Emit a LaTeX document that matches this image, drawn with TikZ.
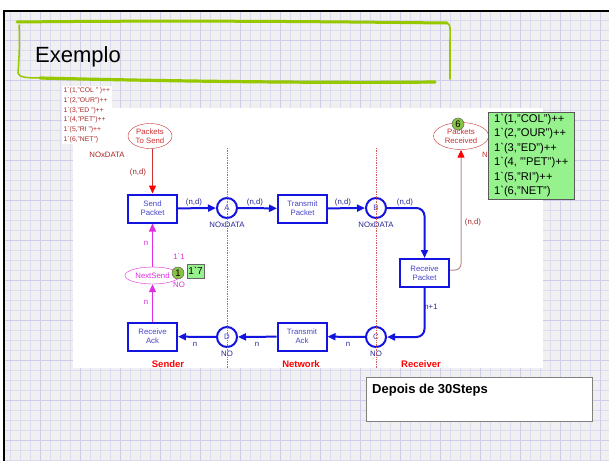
\documentclass[tikz,border=0pt]{standalone}
\usepackage{fontspec}
\setmainfont{Liberation Sans}
\usetikzlibrary{arrows.meta,shapes.geometric}

\definecolor{azul}{RGB}{20,20,225}
\definecolor{azultexto}{RGB}{70,70,200}
\definecolor{azulrotulo}{RGB}{40,40,150}
\definecolor{vermelho}{RGB}{205,50,50}
\definecolor{vermelhoescuro}{RGB}{170,40,40}
\definecolor{rosado}{RGB}{195,140,140}
\definecolor{magenta2}{RGB}{225,45,225}
\definecolor{verdeclaro}{RGB}{150,242,140}
\definecolor{verdeficha}{RGB}{135,195,65}
\definecolor{verdetitulo}{RGB}{150,200,0}
\definecolor{fundo}{RGB}{240,240,240}
\definecolor{grade}{RGB}{218,218,240}
\definecolor{gradeforte}{RGB}{205,205,235}

\newcommand{\crase}{\textasciigrave}

\tikzset{
  pequeno/.style={font=\fontsize{7.8}{8.8}\selectfont},
  transicao/.style={draw=azul, line width=2pt, fill=white, minimum width=49pt,
    minimum height=28pt, inner sep=0pt, align=center, text=azultexto, pequeno},
  lugar/.style={circle, draw=azul, line width=2pt, fill=white, minimum size=20pt,
    inner sep=0pt, text=azultexto, pequeno},
  lugarext/.style={ellipse, fill=white, inner sep=0pt, align=center, pequeno},
  arco/.style={draw=azul, line width=2pt, -{Triangle[length=8pt,width=7pt]}},
  arcomag/.style={draw=magenta2, line width=1pt, -{Triangle[length=8pt,width=7pt]}},
  arcoret/.style={draw=rosado, line width=1pt, -{Triangle[length=8pt,width=7pt,color=red]}},
  arcored/.style={draw=vermelho, line width=1pt, -{Triangle[length=8pt,width=7pt,color=red]}},
  rotulo/.style={pequeno, inner sep=0pt, text=azulrotulo},
  ficha/.style={circle, fill=verdeficha, draw=black!60, line width=0.5pt, inner sep=0pt,
    minimum size=12pt, font=\fontsize{9.5}{10}\selectfont},
  secao/.style={font=\bfseries\fontsize{9.5}{10}\selectfont, text=red, inner sep=0pt}
}

\begin{document}
\begin{tikzpicture}[x=1pt, y=-1pt]
    \useasboundingbox (0,0) rectangle (609,461);

    % Fundo do slide com a grade
    \fill[white] (0,0) rectangle (609,12);
    \fill[fundo] (4,11) rectangle (609,461);
    \foreach \x in {10,20,...,600}
        \draw[grade, line width=0.6pt] (\x,12) -- (\x,461);
    \foreach \y in {20,30,...,460}
        \draw[grade, line width=0.6pt] (5,\y) -- (609,\y);
    \foreach \x in {40,80,...,600}
        \draw[gradeforte, line width=0.7pt] (\x,12) -- (\x,461);
    \foreach \y in {40,80,...,440}
        \draw[gradeforte, line width=0.7pt] (5,\y) -- (609,\y);
    \draw[black, line width=2pt] (3,11) -- (609,11);
    \draw[black, line width=2pt] (4,10) -- (4,461);

    % Moldura verde do titulo
    \draw[verdetitulo, line width=3pt, line cap=round] (17,22) .. controls (200,20) and (350,22) .. (447,23);
    \draw[verdetitulo, line width=1.6pt, line cap=round] (447,23) .. controls (451,24) and (450,30) .. (450,45) -- (450,79);
    \draw[verdetitulo, line width=1.5pt, line cap=round] (19,25) .. controls (20,40) and (19,60) .. (18,73) .. controls (19,77) and (25,78) .. (40,78);
    \draw[verdetitulo, line width=3.2pt, line cap=round] (40,78) .. controls (200,82) and (350,83) .. (435,82);
    \node[anchor=base west, inner sep=0pt, font=\fontsize{22}{24}\selectfont] (titulo) at (35,62) {Exemplo};

    % Area branca da rede
    \fill[white] (73,108) rectangle (543,368);
    \node[anchor=north west, fill=white, inner sep=1.5pt, align=left, text=vermelhoescuro,
          font=\fontsize{6.8}{9.7}\selectfont] (inicial) at (62,86)
        {1\crase(1,"COL " )++\\1\crase(2,"OUR")++\\1\crase(3,"ED ")++\\1\crase(4,"PET")++\\1\crase(5,"RI ")++\\1\crase(6,"NET")};

    % Lugares externos
    \node[lugarext, draw=vermelho, text=vermelho, minimum width=44pt, minimum height=25pt] (packetsToSend) at (150,136) {Packets\\To Send};
    \node[pequeno, text=vermelhoescuro] (tipoSend) at (107,155) {NOxDATA};
    \node[pequeno, text=vermelho, anchor=west, inner sep=0pt] (tipoReceived) at (482,155) {N};
    \node[lugarext, draw=vermelho, text=vermelho, minimum width=55pt, minimum height=27pt] (packetsReceived) at (461,136) {Packets\\Received};

    % Transicoes
    \node[transicao] (sendPacket) at (152.5,208.5) {Send\\Packet};
    \node[transicao] (transmitPacket) at (302.5,208.5) {Transmit\\Packet};
    \node[transicao] (receivePacket) at (424.5,273) {Receive\\Packet};
    \node[transicao] (transmitAck) at (302,336.5) {Transmit\\Ack};
    \node[transicao] (receiveAck) at (152.5,336.5) {Receive\\Ack};

    % Lugares internos
    \node[lugar] (pA) at (227,208) {A};
    \node[lugar] (pB) at (376,208) {B};
    \node[lugar] (pC) at (376,337) {C};
    \node[lugar] (pD) at (227,337) {D};
    \node[lugarext, draw=magenta2, text=magenta2, minimum width=55pt, minimum height=17pt] (nextSend) at (152.5,275.5) {NextSend};

    % Tipos dos lugares
    \node[rotulo] (tipoA) at (227,225) {NOxDATA};
    \node[rotulo] (tipoB) at (376,225) {NOxDATA};
    \node[rotulo] (tipoC) at (376,354) {NO};
    \node[rotulo] (tipoD) at (227,354) {NO};
    \node[rotulo, text=magenta2] (tipoNext) at (179,285) {NO};
    \node[rotulo, text=magenta2] (iniNext) at (179,257) {1\crase1};

    % Arcos
    \draw[arcored] (packetsToSend.south -| sendPacket) -- (sendPacket.north);
    \draw[arco] (sendPacket) -- (pA);
    \draw[arco] (pA) -- (transmitPacket);
    \draw[arco] (transmitPacket) -- (pB);
    \draw[arco, rounded corners=8pt] (pB.east) -| (receivePacket.north);
    \draw[arcoret, rounded corners=6pt] ([yshift=3pt]receivePacket.east) -| (packetsReceived.south);
    \draw[arco, rounded corners=8pt] (receivePacket.south) |- (pC.east);
    \draw[arco] (pC) -- (transmitAck);
    \draw[arco] (transmitAck) -- (pD);
    \draw[arco] (pD) -- (receiveAck);
    \draw[arcomag] (receiveAck) -- (nextSend);
    \draw[arcomag] (nextSend) -- (sendPacket);

    % Inscricoes dos arcos
    \node[pequeno, text=vermelhoescuro] (insPTS) at (138,172) {(n,d)};
    \node[rotulo] (insA) at (194,202) {(n,d)};
    \node[rotulo] (insTP) at (255,202) {(n,d)};
    \node[rotulo] (insB) at (343,202) {(n,d)};
    \node[rotulo] (insRP) at (405,202) {(n,d)};
    \node[pequeno, text=vermelhoescuro] (insPR) at (473,222) {(n,d)};
    \node[rotulo] (insC) at (431,307) {n+1};
    \node[rotulo] (insTA) at (348,344) {n};
    \node[rotulo] (insD) at (257,344) {n};
    \node[rotulo] (insRA) at (195,344) {n};
    \node[rotulo, text=magenta2] (insNS) at (146,302) {n};
    \node[rotulo, text=magenta2] (insSP) at (146,243) {n};

    % Marcas atuais
    \node[ficha] (fichaNext) at (178,273) {1};
    \node[draw=black!60, fill=verdeclaro, inner sep=1pt, minimum width=17pt, minimum height=14pt,
          font=\fontsize{10}{11}\selectfont] (marcaNext) at (195.5,271) {1\crase7};
    \node[ficha] (fichaRec) at (458,124) {6};
    \node[anchor=north west, draw=black!65, fill=verdeclaro, inner xsep=1pt, inner ysep=2pt,
          minimum width=86pt, align=left, font=\fontsize{11.2}{14.4}\selectfont] (marcaRec) at (488,112)
        {1\crase(1,"COL")++\\1\crase(2,"OUR")++\\1\crase(3,"ED")++\\1\crase(4, "\textquotesingle PET")++\\1\crase(5,"RI")++\\1\crase(6,"NET")};

    % Divisorias entre as partes
    \draw[vermelho!80, densely dotted, line width=0.7pt] (227,148) -- (227,368);
    \draw[vermelho!80, densely dotted, line width=0.7pt] (376,148) -- (376,368);
    \node[secao] (sender) at (168,364) {Sender};
    \node[secao] (network) at (301,364) {Network};
    \node[secao] (receiver) at (421,364) {Receiver};

    % Caixa de comentario
    \node[anchor=north west, draw=black!50, line width=0.8pt, fill=white, minimum width=226pt,
          minimum height=44pt, inner sep=0pt] (depoisCaixa) at (366,377) {};
    \node[anchor=west, inner sep=0pt, font=\bfseries\fontsize{13}{14}\selectfont]
        (depoisTexto) at ([xshift=6pt,yshift=-13pt]depoisCaixa.north west) {Depois de 30Steps};

\end{tikzpicture}
\end{document}
